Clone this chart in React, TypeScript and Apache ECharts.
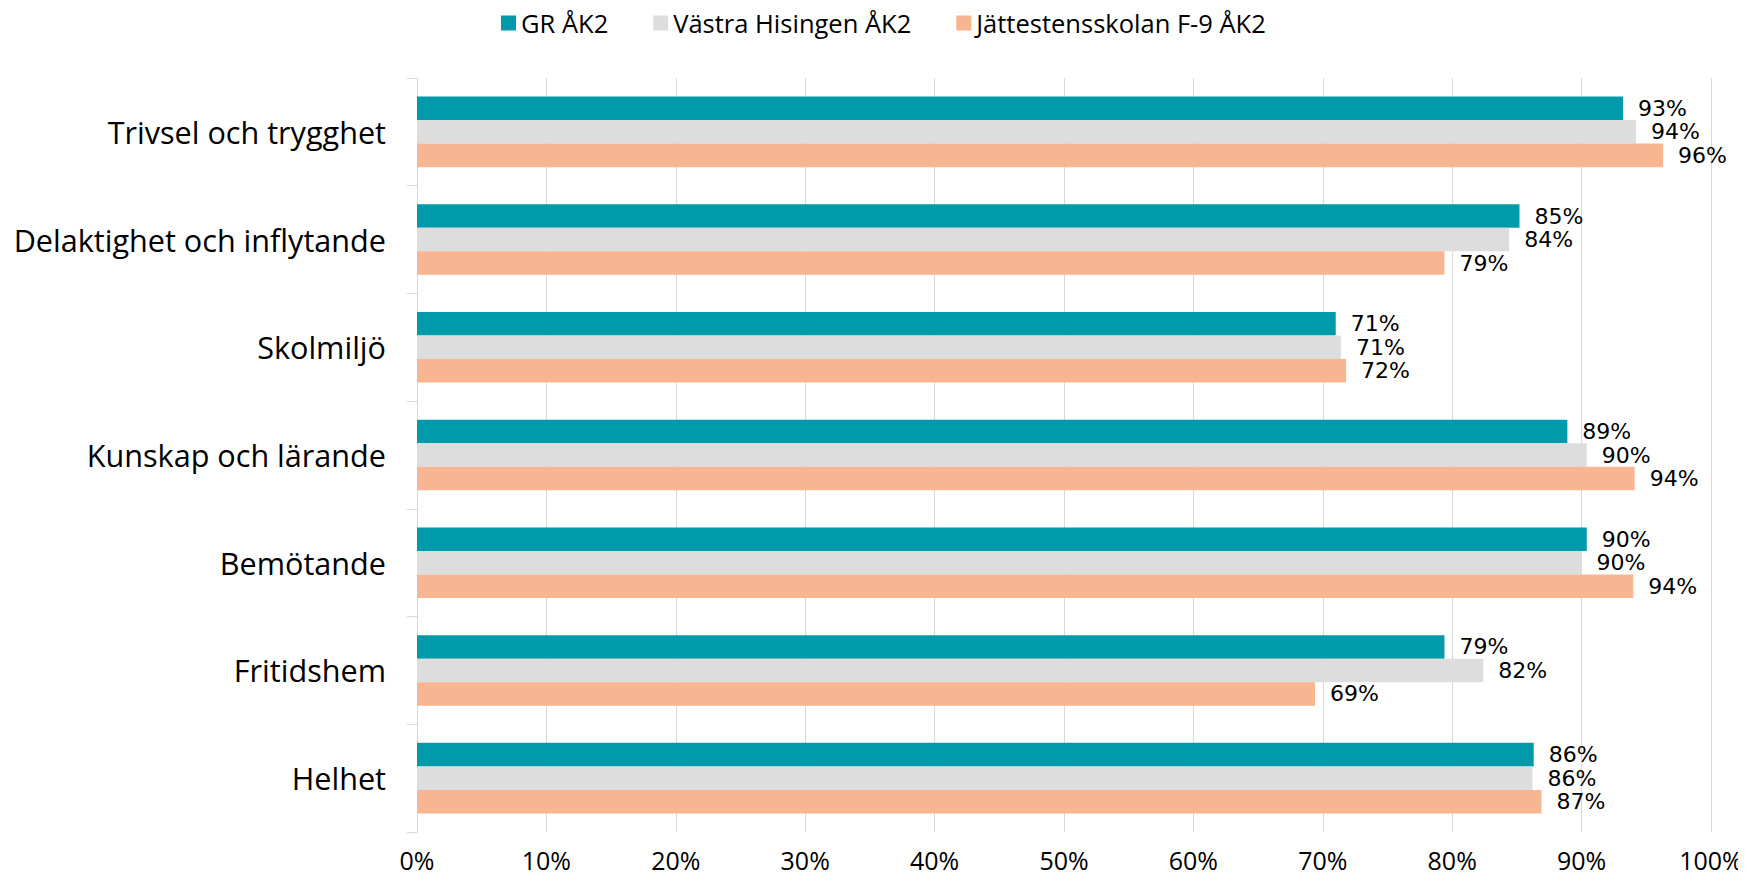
import React, { useEffect, useRef } from "react";
import * as echarts from "echarts";

const categories = [
  "Trivsel och trygghet",
  "Delaktighet och inflytande",
  "Skolmiljö",
  "Kunskap och lärande",
  "Bemötande",
  "Fritidshem",
  "Helhet",
];
const seriesNames = ["GR ÅK2", "Västra Hisingen ÅK2", "Jättestensskolan F-9 ÅK2"];
const grValues = [93.2, 85.2, 71.0, 88.9, 90.4, 79.4, 86.3];
const vastraValues = [94.2, 84.4, 71.4, 90.4, 90.0, 82.4, 86.2];
const jatteValues = [96.3, 79.4, 71.8, 94.1, 94.0, 69.4, 86.9];
const xTicks = [0, 10, 20, 30, 40, 50, 60, 70, 80, 90, 100];
const colors = ["#019AAA", "#DDDDDD", "#F8B592"];

export default function App() {
  const ref = useRef<HTMLDivElement>(null);
  useEffect(() => {
    if (!ref.current) return;
    const chart = echarts.init(ref.current, null, { renderer: "svg" });
    const values = [grValues, vastraValues, jatteValues];
    chart.setOption({
      animation: false,
      legend: {
        left: 496,
        top: 5,
        itemWidth: 15,
        itemHeight: 15,
        itemGap: 45,
        icon: "rect",
        textStyle: { fontFamily: "Open Sans", fontSize: 25.5, color: "#000" },
        data: seriesNames,
      },
      grid: { left: 417, right: 35, top: 78, bottom: 46 },
      xAxis: {
        type: "value",
        min: xTicks[0],
        max: xTicks[xTicks.length - 1],
        interval: 10,
        axisLine: { show: false },
        axisTick: { show: false },
        splitLine: { lineStyle: { color: "#D9D9D9", width: 1 } },
        axisLabel: {
          formatter: "{value}%",
          fontFamily: "Open Sans",
          fontSize: 25,
          lineHeight: 25,
          color: "#000",
          margin: 15,
        },
      },
      yAxis: {
        type: "category",
        inverse: true,
        data: categories,
        axisLine: { show: true, lineStyle: { color: "#D9D9D9" } },
        axisTick: { show: true, length: 10, lineStyle: { color: "#D9D9D9" } },
        axisLabel: {
          fontFamily: "Open Sans",
          fontSize: 30.6,
          color: "#000",
          margin: 31,
        },
      },
      series: seriesNames.map((name, i) => ({
        name,
        type: "bar",
        data: values[i],
        barGap: "0%",
        barCategoryGap: "34.5%",
        itemStyle: { color: colors[i] },
        label: {
          show: true,
          position: "right",
          distance: 15,
          fontFamily: "DejaVu Sans",
          fontSize: 22,
          color: "#000",
          formatter: (p: any) => Math.round(p.value) + "%",
        },
      })),
    });
    return () => chart.dispose();
  }, []);
  return <div ref={ref} style={{ width: 1746, height: 878, marginLeft: -8, marginTop: -8 }} />;
}
